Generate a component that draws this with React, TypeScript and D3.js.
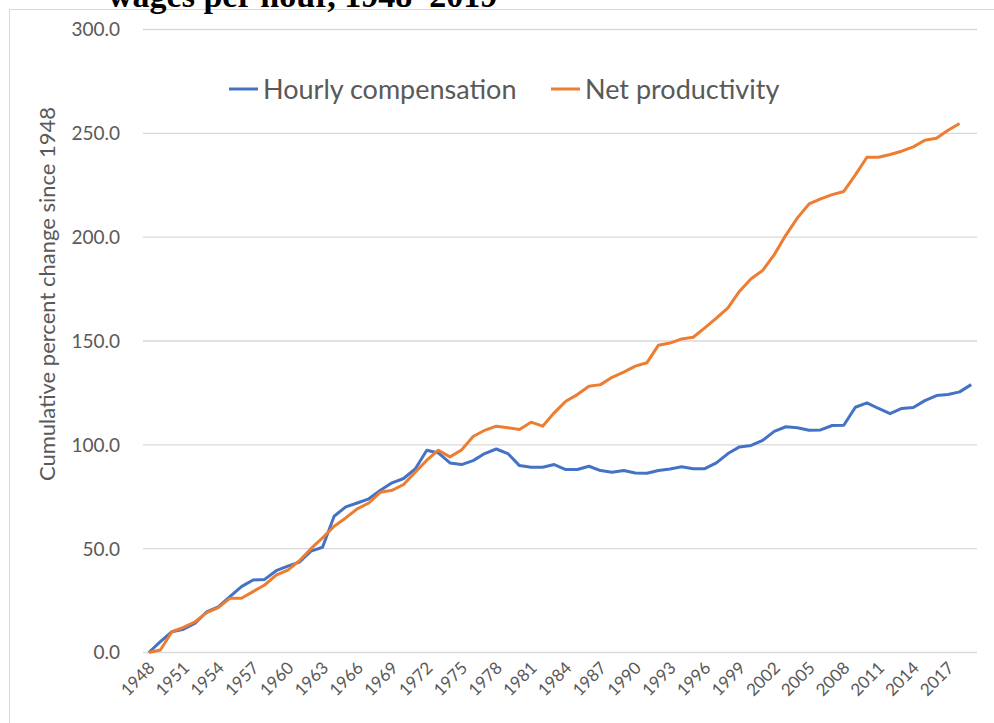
import { useEffect, useRef } from 'react';
import * as d3 from 'd3';

const years = d3.range(1948, 2020).map(String);

// cumulative percent change since 1948
const hourlyCompensation = [
  0, 5.2, 10, 11.2, 14.1, 19.6, 22, 26.9, 31.7, 34.9,
  35.2, 39.4, 41.6, 43.5, 48.8, 50.7, 65.6, 70.1, 72, 74,
  78.1, 81.7, 83.8, 88.4, 97.4, 96.1, 91.3, 90.5, 92.4, 95.8,
  98, 95.8, 90, 89.2, 89.2, 90.5, 88.1, 88.1, 89.7, 87.6,
  86.8, 87.6, 86.4, 86.3, 87.6, 88.4, 89.4, 88.5, 88.5, 91.3,
  95.8, 99, 99.7, 102.2, 106.5, 108.7, 108.2, 107, 107.2, 109.3,
  109.4, 118.1, 120.2, 117.5, 115, 117.5, 118, 121.3, 123.7, 124.2,
  125.5, 129,
];

const netProductivity = [
  0, 1.2, 10, 12.1, 14.8, 19.2, 21.6, 26.1, 26.1, 29.3,
  32.5, 37.3, 39.7, 44.2, 50, 55.2, 60.8, 64.8, 69.2, 72,
  77.2, 78.1, 80.9, 86.8, 92.6, 97.4, 94.2, 97.5, 104, 107,
  109, 108.2, 107.4, 110.9, 109, 115.4, 121, 124.2, 128.2, 129,
  132.5, 135, 137.9, 139.5, 148, 149, 151, 151.8, 156.3, 161,
  166, 174, 180, 184, 191.6, 201, 209.3, 216, 218.4, 220.5,
  222, 230, 238.5, 238.5, 239.8, 241.4, 243.5, 246.7, 247.6, 251.5,
  254.7,
];

const yTicks = [0, 50, 100, 150, 200, 250, 300];
const xTickYears = years.filter((_, i) => i % 3 === 0);

const seriesNames = ['Hourly compensation', 'Net productivity'];
const colors = ['#4472C4', '#ED7D31'];

function App() {
  const ref = useRef<SVGSVGElement>(null);

  useEffect(() => {
    const svg = d3.select(ref.current);
    svg.selectAll('*').remove();

    const font = 'Lato, "Open Sans", sans-serif';

    const x = d3.scalePoint().domain(years).range([143, 977]).padding(0.5);
    const y = d3.scaleLinear().domain([0, 300]).range([652.5, 29.5]);

    svg.append('rect')
      .attr('x', 9.5).attr('y', 9.5)
      .attr('width', 1000).attr('height', 800)
      .attr('fill', '#fff').attr('stroke', '#d9d9d9');

    // title, cut off at the top as in the source image
    svg.append('text')
      .attr('x', 108).attr('y', 7)
      .attr('font-family', '"Liberation Serif", "Times New Roman", serif')
      .attr('font-weight', 'bold')
      .attr('font-size', 34)
      .text('wages per hour, 1948–2019');

    // horizontal grid + y labels
    svg.append('g')
      .selectAll('line')
      .data(yTicks)
      .enter()
      .append('line')
      .attr('x1', 143).attr('x2', 977)
      .attr('y1', (d) => y(d)).attr('y2', (d) => y(d))
      .attr('stroke', '#d9d9d9').attr('stroke-width', 1.3);

    svg.append('g')
      .selectAll('text')
      .data(yTicks)
      .enter()
      .append('text')
      .attr('x', 120)
      .attr('y', (d) => y(d))
      .attr('dy', '0.36em')
      .attr('text-anchor', 'end')
      .attr('font-family', font)
      .attr('font-size', 19)
      .attr('fill', '#595959')
      .text((d) => d.toFixed(1));

    svg.append('text')
      .attr('transform', `translate(55,${294}) rotate(-90)`)
      .attr('text-anchor', 'middle')
      .attr('font-family', font)
      .attr('font-size', 22)
      .attr('fill', '#595959')
      .text('Cumulative percent change since 1948');

    // x labels
    svg.append('g')
      .selectAll('text')
      .data(xTickYears)
      .enter()
      .append('text')
      .attr('transform', (d) => `translate(${x(d)! + 7},${669}) rotate(-45)`)
      .attr('text-anchor', 'end')
      .attr('font-family', font)
      .attr('font-size', 17)
      .attr('fill', '#595959')
      .text((d) => d);

    const line = d3.line<number>()
      .x((_, i) => x(years[i])!)
      .y((d) => y(d));

    [hourlyCompensation, netProductivity].forEach((s, k) => {
      svg.append('path')
        .datum(s)
        .attr('d', line)
        .attr('fill', 'none')
        .attr('stroke', colors[k])
        .attr('stroke-width', 3)
        .attr('stroke-linejoin', 'round');
    });

    // legend
    const legendX = [229, 551];
    seriesNames.forEach((name, k) => {
      const g = svg.append('g').attr('transform', `translate(${legendX[k]},89)`);
      g.append('line')
        .attr('x1', 0).attr('x2', 29)
        .attr('stroke', colors[k]).attr('stroke-width', 3);
      g.append('text')
        .attr('x', 34)
        .attr('dy', '0.36em')
        .attr('font-family', font)
        .attr('font-size', 27)
        .attr('fill', '#595959')
        .text(name);
    });
  }, []);

  return (
    <svg
      ref={ref}
      width={994}
      height={723}
      style={{ position: 'absolute', left: 0, top: 0, background: '#fff' }}
    />
  );
}

export default App;
